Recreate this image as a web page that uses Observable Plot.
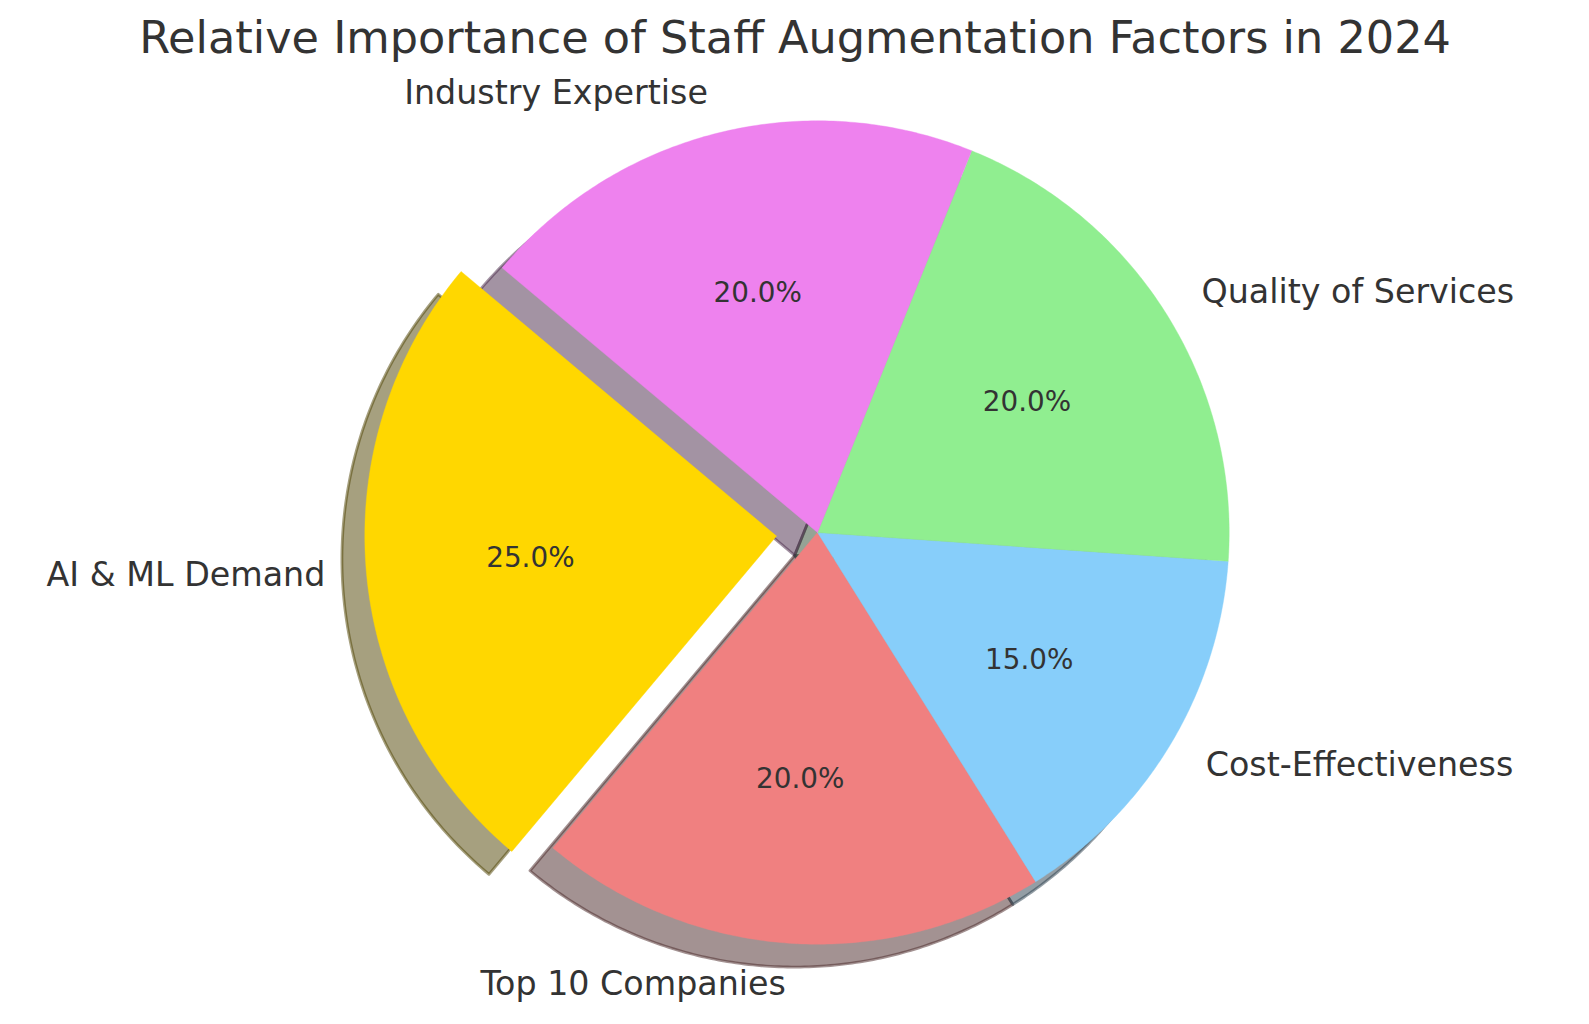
<!DOCTYPE html>
<html>
<head>
<meta charset="utf-8">
<script src="https://cdn.jsdelivr.net/npm/d3@7"></script>
<script src="https://cdn.jsdelivr.net/npm/@observablehq/plot@0.6"></script>
<style>
  html, body { margin: 0; padding: 0; background: #fff; overflow: hidden; }
  #chart svg { display: block; max-width: none !important; width: 1589px !important; height: 1024px !important; }
</style>
</head>
<body>
<div id="chart"></div>
<script>
const title = "Relative Importance of Staff Augmentation Factors in 2024";
const labels = ["AI & ML Demand", "Top 10 Companies", "Cost-Effectiveness", "Quality of Services", "Industry Expertise"];
const values = [25, 20, 15, 20, 20];
const colors = ["#FFD700", "#F08080", "#87CEFA", "#90EE90", "#EE82EE"];
const explode = [0.1, 0, 0, 0, 0];
const startAngle = 140;

const W = 1589, H = 1024;
const R = 411.7, CX = 817, CY = 532;   // pixel layout of the pie
const total = d3.sum(values);
const rad = Math.PI / 180;

function shadowColor(c) {
  const k = d3.rgb(c);
  return d3.rgb(k.r * 0.3, k.g * 0.3, k.b * 0.3).formatHex();
}

const slices = [];
let a0 = startAngle;
labels.forEach((name, i) => {
  const sweep = values[i] / total * 360;
  const a1 = a0 + sweep;
  const mid = (a0 + a1) / 2;
  const ox = explode[i] * Math.cos(mid * rad);
  const oy = explode[i] * Math.sin(mid * rad);
  slices.push({name, value: values[i], color: colors[i], shadow: shadowColor(colors[i]), a0, a1, mid, ox, oy});
  a0 = a1;
});

function outline(s, dx, dy) {
  const base = {name: s.name, color: s.color, shadow: s.shadow};
  const pts = [{...base, x: s.ox + dx, y: s.oy + dy}];
  const n = 120;
  for (let j = 0; j <= n; j++) {
    const t = (s.a0 + (s.a1 - s.a0) * j / n) * rad;
    pts.push({...base, x: s.ox + dx + Math.cos(t), y: s.oy + dy + Math.sin(t)});
  }
  pts.push({...base, x: s.ox + dx, y: s.oy + dy});
  return pts;
}
const shadowOff = 0.02 * 200 / 72;
const shadowPts = slices.flatMap(s => outline(s, -shadowOff, -shadowOff));
const wedgePts = slices.flatMap(s => outline(s, 0, 0));

const labelPts = slices.map(s => ({
  name: s.name,
  x: s.ox + 1.1 * Math.cos(s.mid * rad),
  y: s.oy + 1.1 * Math.sin(s.mid * rad),
  left: Math.cos(s.mid * rad) < 0
}));
const pctPts = slices.map(s => ({
  pct: (s.value / total * 100).toFixed(1) + "%",
  x: s.ox + 0.6 * Math.cos(s.mid * rad),
  y: s.oy + 0.6 * Math.sin(s.mid * rad)
}));

const font = "DejaVu Sans";
const txt = "#333333";

const chart = Plot.plot({
  width: W,
  height: H,
  margin: 0,
  x: {domain: [-CX / R, (W - CX) / R], axis: null},
  y: {domain: [-(H - CY) / R, CY / R], axis: null},
  color: {type: "identity"},
  style: {fontFamily: font, background: "#fff"},
  marks: [
    Plot.line(shadowPts, {x: "x", y: "y", z: "name", fill: "shadow", stroke: "shadow",
      fillOpacity: 0.5, strokeOpacity: 0.5, strokeWidth: 2.8, curve: "linear"}),
    Plot.line(wedgePts, {x: "x", y: "y", z: "name", fill: "color", stroke: "color",
      strokeWidth: 0.4, curve: "linear"}),
    Plot.text(labelPts.filter(d => d.left), {x: "x", y: "y", text: "name", textAnchor: "end",
      fontSize: 33.3, fill: txt}),
    Plot.text(labelPts.filter(d => !d.left), {x: "x", y: "y", text: "name", textAnchor: "start",
      fontSize: 33.3, fill: txt}),
    Plot.text(pctPts, {x: "x", y: "y", text: "pct", fontSize: 27.8, fill: txt}),
    Plot.text([title], {frameAnchor: "top", lineAnchor: "middle", text: d => d, fontSize: 44.6, fill: txt, dy: 38})
  ]
});
document.getElementById("chart").appendChild(chart);
</script>
</body>
</html>
